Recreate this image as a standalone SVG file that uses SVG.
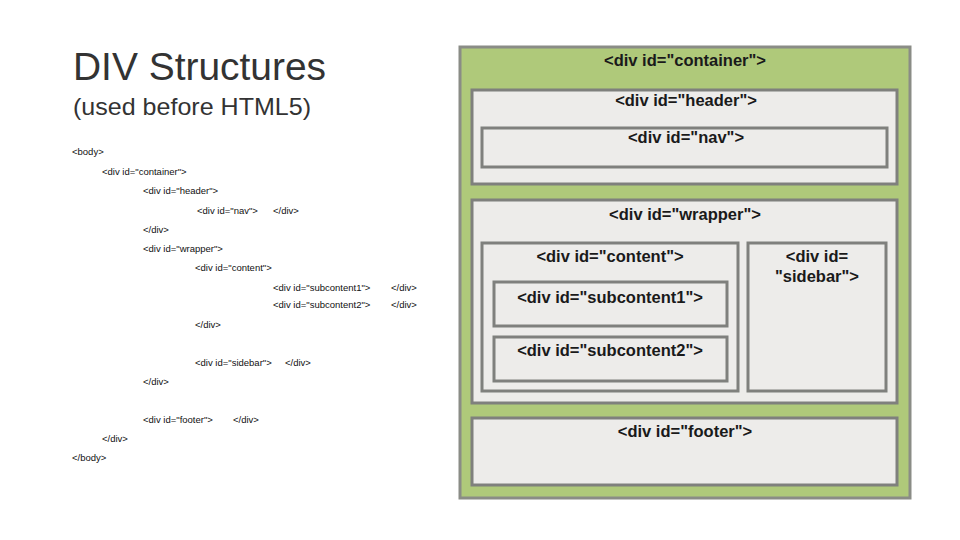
<svg xmlns="http://www.w3.org/2000/svg" width="960" height="540" viewBox="0 0 960 540">
<style>
.title{font-family:"Liberation Sans",Arial,sans-serif;fill:#333;}
.code{font-family:"Liberation Sans",Arial,sans-serif;font-size:9.5px;fill:#111;}
.box{fill:#edecea;stroke:#7f807d;stroke-width:3;}
.lbl{font-family:"Liberation Sans",Arial,sans-serif;font-weight:bold;font-size:16.5px;fill:#1a1a1a;text-anchor:middle;}
</style>
<rect width="960" height="540" fill="#ffffff"/>
<text class="title" x="73" y="80" font-size="39" textLength="253" lengthAdjust="spacingAndGlyphs">DIV Structures</text>
<text class="title" x="73" y="115" font-size="24" textLength="238" lengthAdjust="spacingAndGlyphs">(used before HTML5)</text>
<g id="code">
<text class="code" x="72" y="155">&lt;body&gt;</text>
<text class="code" x="102" y="175">&lt;div id="container"&gt;</text>
<text class="code" x="143" y="194">&lt;div id="header"&gt;</text>
<text class="code" x="197" y="214">&lt;div id="nav"&gt;</text>
<text class="code" x="273" y="214">&lt;/div&gt;</text>
<text class="code" x="143" y="233">&lt;/div&gt;</text>
<text class="code" x="143" y="252">&lt;div id="wrapper"&gt;</text>
<text class="code" x="195" y="271">&lt;div id="content"&gt;</text>
<text class="code" x="273" y="291">&lt;div id="subcontent1"&gt;</text>
<text class="code" x="391" y="291">&lt;/div&gt;</text>
<text class="code" x="273" y="308">&lt;div id="subcontent2"&gt;</text>
<text class="code" x="391" y="308">&lt;/div&gt;</text>
<text class="code" x="195" y="328">&lt;/div&gt;</text>
<text class="code" x="195" y="366">&lt;div id="sidebar"&gt;</text>
<text class="code" x="285" y="366">&lt;/div&gt;</text>
<text class="code" x="143" y="385">&lt;/div&gt;</text>
<text class="code" x="143" y="423">&lt;div id="footer"&gt;</text>
<text class="code" x="233" y="423">&lt;/div&gt;</text>
<text class="code" x="102" y="442">&lt;/div&gt;</text>
<text class="code" x="72" y="461">&lt;/body&gt;</text>
</g>
<g id="container">
<rect x="460" y="47" width="450" height="451" fill="#afc97a" stroke="#8a8c86" stroke-width="3"/>
<text class="lbl" x="685" y="66">&lt;div id="container"&gt;</text>
</g>
<g id="header">
<rect class="box" x="472" y="90" width="425" height="94"/>
<text class="lbl" x="686" y="106">&lt;div id="header"&gt;</text>
</g>
<g id="nav">
<rect class="box" x="482" y="128" width="405" height="39"/>
<text class="lbl" x="686" y="143">&lt;div id="nav"&gt;</text>
</g>
<g id="wrapper">
<rect class="box" x="472" y="200" width="425" height="203"/>
<text class="lbl" x="685" y="220">&lt;div id="wrapper"&gt;</text>
</g>
<g id="content">
<rect class="box" x="482" y="243" width="256" height="148"/>
<text class="lbl" x="610" y="262">&lt;div id="content"&gt;</text>
</g>
<g id="sidebar">
<rect class="box" x="748" y="243" width="138" height="148"/>
<text class="lbl" x="817" y="262">&lt;div id=</text>
<text class="lbl" x="817" y="282">"sidebar"&gt;</text>
</g>
<g id="subcontent1">
<rect class="box" x="494" y="282" width="233" height="44"/>
<text class="lbl" x="610" y="303">&lt;div id="subcontent1"&gt;</text>
</g>
<g id="subcontent2">
<rect class="box" x="494" y="337" width="233" height="44"/>
<text class="lbl" x="610" y="356">&lt;div id="subcontent2"&gt;</text>
</g>
<g id="footer">
<rect class="box" x="472" y="418" width="425" height="67"/>
<text class="lbl" x="685" y="437">&lt;div id="footer"&gt;</text>
</g>
<g id="connectors"></g>
</svg>
